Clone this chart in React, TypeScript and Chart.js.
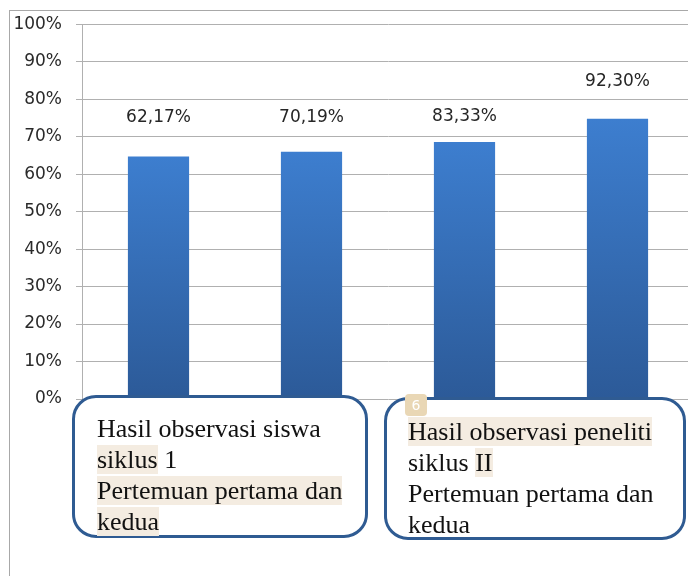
import React, { useEffect, useRef } from "react";
import { Chart, registerables } from "chart.js";

Chart.register(...registerables);

const categories = [
  "Siklus I - Pertemuan 1",
  "Siklus I - Pertemuan 2",
  "Siklus II - Pertemuan 1",
  "Siklus II - Pertemuan 2",
];
const barValues = [64.7, 66.0, 68.6, 74.8];
const valueLabels = ["62,17%", "70,19%", "83,33%", "92,30%"];
const labelLevels = [75.2, 75.2, 75.4, 84.8];
const yMin = 0;
const yMax = 100;
const yStep = 10;

const box1Lines = [
  [{ t: "Hasil observasi siswa", h: false }],
  [{ t: "siklus", h: true }, { t: " 1", h: false }],
  [{ t: "Pertemuan pertama dan", h: true }],
  [{ t: "kedua", h: true }],
];
const box2Lines = [
  [{ t: "Hasil observasi peneliti", h: true }],
  [{ t: "siklus ", h: false }, { t: "II", h: true }],
  [{ t: "Pertemuan pertama dan", h: false }],
  [{ t: "kedua", h: false }],
];

const labelPlugin = {
  id: "valueLabels",
  afterDatasetsDraw(chart: any) {
    const meta = chart.getDatasetMeta(0);
    const ctx = chart.ctx;
    ctx.save();
    ctx.font = '17px "DejaVu Sans"';
    ctx.fillStyle = "#262626";
    ctx.textAlign = "center";
    ctx.textBaseline = "middle";
    meta.data.forEach((el: any, i: number) => {
      const y = chart.scales.y.getPixelForValue(labelLevels[i]);
      ctx.fillText(valueLabels[i], el.x, y);
    });
    ctx.restore();
  },
};

function Box({ lines, style, badge }: any) {
  return (
    <div
      style={{
        position: "absolute",
        boxSizing: "border-box",
        border: "3px solid #2f5b92",
        borderRadius: 24,
        background: "#ffffff",
        fontFamily: '"Liberation Serif", "Times New Roman", serif',
        fontSize: 26,
        lineHeight: "31px",
        color: "#111",
        whiteSpace: "nowrap",
        ...style,
      }}
    >
      {badge ? (
        <div
          style={{
            position: "absolute",
            left: 18,
            top: -6,
            width: 22,
            height: 22,
            borderRadius: 4,
            background: "#e9d7b5",
            color: "#ffffff",
            fontFamily: '"DejaVu Sans", sans-serif',
            fontSize: 14,
            lineHeight: "22px",
            textAlign: "center",
          }}
        >
          {badge}
        </div>
      ) : null}
      {lines.map((line: any, i: number) => (
        <div key={i}>
          {line.map((s: any, j: number) => (
            <span key={j} style={{ background: s.h ? "#f4ece1" : "transparent" }}>
              {s.t}
            </span>
          ))}
        </div>
      ))}
    </div>
  );
}

export default function App() {
  const ref = useRef<HTMLCanvasElement | null>(null);

  useEffect(() => {
    if (!ref.current) return;
    const chart = new Chart(ref.current, {
      type: "bar",
      data: {
        labels: categories,
        datasets: [
          {
            data: barValues,
            backgroundColor: (c: any) => {
              const ch = c.chart;
              const area = ch.chartArea;
              if (!area || c.type !== "data") return "#3a72bd";
              const top = ch.scales.y.getPixelForValue(c.raw);
              const g = ch.ctx.createLinearGradient(0, top, 0, area.bottom);
              g.addColorStop(0, "#3d7ecf");
              g.addColorStop(1, "#2c5a98");
              return g;
            },
            borderWidth: 0,
            barPercentage: 0.4,
            categoryPercentage: 1,
          },
        ],
      },
      options: {
        responsive: false,
        animation: false,
        devicePixelRatio: 1,
        layout: { padding: { top: 24, bottom: 177, left: 0, right: 6 } },
        plugins: { legend: { display: false }, tooltip: { enabled: false } },
        scales: {
          x: { display: false },
          y: {
            min: yMin,
            max: yMax,
            afterFit: (s: any) => {
              s.width = 82;
            },
            ticks: {
              stepSize: yStep,
              padding: 14,
              color: "#2a2a2a",
              font: { family: "DejaVu Sans", size: 17 },
              callback: (v: any) => v + "%",
            },
            grid: { color: "#b0b0b0", lineWidth: 1, tickLength: 6 },
            border: { display: true, color: "#b0b0b0", width: 1 },
          },
        },
      },
      plugins: [labelPlugin],
    });
    return () => chart.destroy();
  }, []);

  return (
    <div
      style={{
        position: "absolute",
        left: 0,
        top: 0,
        width: 688,
        height: 576,
        overflow: "hidden",
        background: "#ffffff",
      }}
    >
      <canvas ref={ref} width={700} height={576} style={{ position: "absolute", left: 0, top: 0 }} />
      <div
        style={{
          position: "absolute",
          left: 9,
          top: 10,
          width: 700,
          height: 600,
          borderLeft: "1px solid #a8a8a8",
          borderTop: "1px solid #a8a8a8",
          pointerEvents: "none",
        }}
      />
      <Box
        lines={box1Lines}
        style={{ left: 72, top: 395, width: 296, height: 143, paddingLeft: 22, paddingTop: 15 }}
      />
      <Box
        lines={box2Lines}
        badge="6"
        style={{ left: 384, top: 397, width: 302, height: 143, paddingLeft: 21, paddingTop: 16 }}
      />
    </div>
  );
}
